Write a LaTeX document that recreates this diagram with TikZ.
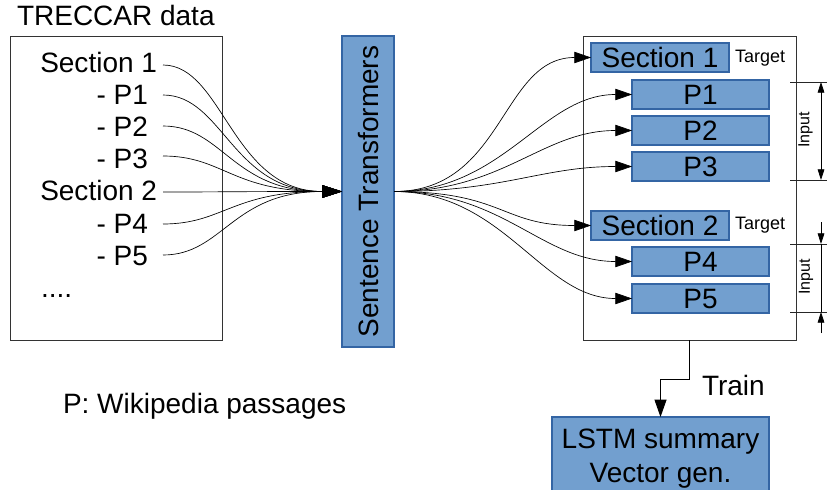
\documentclass[tikz,border=0pt]{standalone}
\usepackage{fontspec}
\setmainfont{Liberation Sans}
\usetikzlibrary{arrows.meta}
\definecolor{boxfill}{HTML}{729FCF}
\definecolor{boxline}{HTML}{3465A4}
\begin{document}
\begin{tikzpicture}[x=0.75pt,y=-0.75pt,
  every node/.style={inner sep=0pt, outer sep=0pt},
  big/.style={font=\fontsize{21}{25.5}\selectfont},
  small/.style={font=\fontsize{13.5}{16}\selectfont},
  tiny/.style={font=\fontsize{12}{14}\selectfont},
  frameline/.style={draw=black!80, line width=0.75pt},
  bluebox/.style={draw=boxline, fill=boxfill, line width=0.8pt, big},
  secbox/.style={bluebox, minimum width=103.5pt, minimum height=21.75pt},
  pbox/.style={bluebox, minimum width=102.75pt, minimum height=21.75pt},
  fanin/.style={line width=0.5pt, -{Triangle[length=15pt,width=9.5pt]}},
  fanout/.style={line width=0.5pt, -{Triangle[length=12.5pt,width=8.5pt]}},
  tickline/.style={line width=0.6pt, draw=black!85},
  dimtip/.style={line width=0.6pt, -{Triangle[length=8pt,width=5pt]}},
  flow/.style={line width=0.7pt, -{Triangle[length=13pt,width=9pt]}}
]
\useasboundingbox (0,0) rectangle (827,489);
\clip (0,0) rectangle (827,489);

% ---- source data panel ----
\node[big, anchor=base west] (title) at (17,25) {TRECCAR data};
\node[frameline, minimum width=159pt, minimum height=228pt] (data) at (116,188) {};
\node[big, anchor=base east] (s1) at (157,72)    {Section 1};
\node[big, anchor=base east] (p1) at (148,104.2) {- P1};
\node[big, anchor=base east] (p2) at (148,136.4) {- P2};
\node[big, anchor=base east] (p3) at (148,168.6) {- P3};
\node[big, anchor=base east] (s2) at (157,200.8) {Section 2};
\node[big, anchor=base east] (p4) at (148,233)   {- P4};
\node[big, anchor=base east] (p5) at (148,265.2) {- P5};
\node[big, anchor=base west] (dots) at (41,297)  {....};

\coordinate (s1o) at (163,65);
\coordinate (p1o) at (163,95);
\coordinate (p2o) at (163,126);
\coordinate (p3o) at (163,156);
\coordinate (s2o) at (163,192);
\coordinate (p4o) at (163,224);
\coordinate (p5o) at (163,255);

\node[big, anchor=base west] (legend) at (63,413) {P: Wikipedia passages};

% ---- encoder ----
\node[bluebox, minimum width=39pt, minimum height=233.25pt] (st) at (368,191.5) {};
\node[big, rotate=90] (stlabel) at (st.center) {Sentence Transformers};

\foreach \c in {s1o,p1o,p2o,p3o,s2o,p4o,p5o}
  \draw[fanin] (\c) .. controls +(60,0) and +(-110,0) .. (st.west);

% ---- training set panel ----
\node[frameline, minimum width=159.75pt, minimum height=228pt] (frame) at (689.5,188) {};
\node[secbox] (t1) at (660,57.5)   {Section 1};
\node[pbox]   (q1) at (700.5,94.5)  {P1};
\node[pbox]   (q2) at (700.5,130.5) {P2};
\node[pbox]   (q3) at (700.5,166.5) {P3};
\node[secbox] (t2) at (660,225.5)  {Section 2};
\node[pbox]   (q4) at (700.5,261.5) {P4};
\node[pbox]   (q5) at (700.5,298.5) {P5};

\node[small, anchor=base west] (tg1) at (735,62)  {Target};
\node[small, anchor=base west] (tg2) at (735,229) {Target};

\foreach \b in {t1,q1,q2,q3,t2,q4,q5}
  \draw[fanout] (st.east) .. controls +(110,0) and +(-90,0) .. (\b.west);

% ---- input extents ----
\coordinate (ia) at (790,82);
\coordinate (ib) at (790,180);
\coordinate (ic) at (790,244);
\coordinate (id) at (790,312);
\foreach \c in {ia,ib,ic,id}
  \draw[tickline] (\c) -- ++(37,0);

\coordinate (da) at (821,82);
\coordinate (db) at (821,180);
\draw[line width=0.6pt, {Triangle[length=8pt,width=5pt]}-{Triangle[length=8pt,width=5pt]}] (da) -- (db);
\node[tiny, rotate=90] (in1) at (805.5,130) {Input};

\coordinate (dc0) at (821,222);
\coordinate (dc) at (821,244);
\coordinate (dd) at (821,312);
\coordinate (dd0) at (821,333);
\draw[dimtip] (dc0) -- (dc);
\draw[line width=0.6pt] (dc) -- (dd);
\draw[dimtip] (dd0) -- (dd);
\node[tiny, rotate=90] (in2) at (806,277) {Input};

% ---- summary model ----
\node[bluebox, align=center, minimum width=162.75pt, minimum height=62.25pt] (lstm) at (660.5,458.5) {LSTM summary\\Vector gen.};
\draw[flow] (frame.south) -- ++(0,39) -| (lstm.north);
\node[big, anchor=base west] (train) at (702,395) {Train};
\end{tikzpicture}
\end{document}
